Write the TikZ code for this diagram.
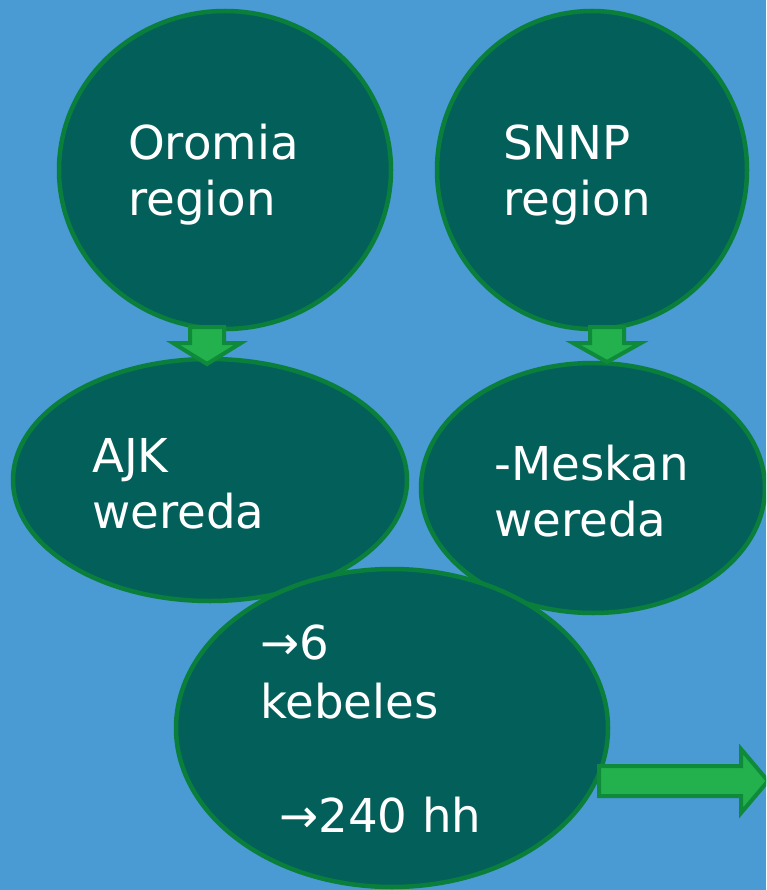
\documentclass[tikz,border=0pt]{standalone}
\usepackage{fontspec}
\setmainfont{DejaVu Sans}
\usetikzlibrary{shapes.geometric}
\definecolor{bgblue}{HTML}{4A9AD4}
\definecolor{tealfill}{HTML}{035F5A}
\definecolor{ringgreen}{HTML}{0A7F3C}
\definecolor{arrowfill}{HTML}{22B14C}
\definecolor{arrowedge}{HTML}{0E8A3A}
\tikzset{
  blob/.style={ellipse, inner sep=0pt, fill=tealfill, draw=ringgreen, line width=4.5pt},
  lbl/.style={anchor=base west, inner sep=0pt, text=white, font=\fontsize{46.7}{56}\selectfont},
  blockarrow/.style={fill=arrowfill, draw=arrowedge, line width=4pt, line join=miter}
}
\begin{document}
\begin{tikzpicture}[x=1pt, y=-1pt]
\useasboundingbox (0,0) rectangle (766,890);
\fill[bgblue] (0,0) rectangle (766,890);
\begin{scope}
\clip (0,0) rectangle (766,890);
% ellipses
\node[blob, minimum width=332pt, minimum height=318pt] (oromia) at (225,170) {};
\node[blob, minimum width=310pt, minimum height=318pt] (snnp) at (592,170) {};
\node[blob, minimum width=394pt, minimum height=242pt] (ajk) at (210,480) {};
\node[blob, minimum width=344pt, minimum height=250pt] (meskan) at (593,488) {};
\node[blob, minimum width=432pt, minimum height=318pt] (kebeles) at (392,728) {};
% block arrows
\draw[blockarrow] (190,327) -- (224,327) -- (224,343) -- (241,343) -- (207,364) -- (173,343) -- (190,343) -- cycle;
\draw[blockarrow] (590,327) -- (624,327) -- (624,343) -- (641,343) -- (607,362) -- (573,343) -- (590,343) -- cycle;
\draw[blockarrow] (599,766) -- (741,766) -- (741,749) -- (768,781) -- (741,813) -- (741,796) -- (599,796) -- cycle;
\end{scope}
% labels
\node[lbl] (t1a) at (128,160) {Oromia};
\node[lbl] (t1b) at (128,216) {region};
\node[lbl] (t2a) at (503,160) {SNNP};
\node[lbl] (t2b) at (503,216) {region};
\node[lbl] (t3a) at (92,472) {AJK};
\node[lbl] (t3b) at (92,528) {wereda};
\node[lbl] (t4a) at (494,480) {-Meskan};
\node[lbl] (t4b) at (494,536) {wereda};
\node[lbl] (t5a) at (260,659) {→6};
\node[lbl] (t5b) at (260,718) {kebeles};
\node[lbl] (t5c) at (279,832) {→240 hh};
\end{tikzpicture}
\end{document}
